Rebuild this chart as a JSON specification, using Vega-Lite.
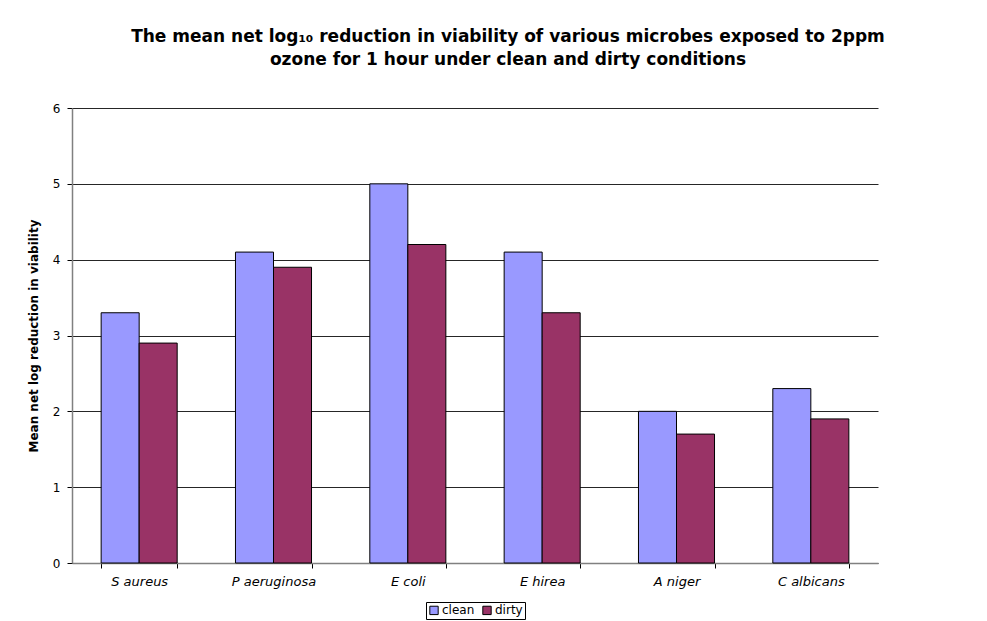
{
  "$schema": "https://vega.github.io/schema/vega-lite/v6.json",
  "autosize": "none",
  "width": 806,
  "height": 455,
  "padding": {"left": 72, "top": 108, "right": 109, "bottom": 58},
  "background": "white",
  "title": {
    "text": ["The mean net log₁₀ reduction in viability of various microbes exposed to 2ppm", "ozone for 1 hour under clean and dirty conditions"],
    "font": "DejaVu Sans",
    "fontSize": 17,
    "fontWeight": "bold",
    "color": "black",
    "lineHeight": 23,
    "anchor": "middle",
    "dx": 33,
    "offset": 33
  },
  "data": {
    "values": [
      {"microbe": "S aureus", "condition": "clean", "value": 3.3},
      {"microbe": "S aureus", "condition": "dirty", "value": 2.9},
      {"microbe": "P aeruginosa", "condition": "clean", "value": 4.1},
      {"microbe": "P aeruginosa", "condition": "dirty", "value": 3.9},
      {"microbe": "E coli", "condition": "clean", "value": 5.0},
      {"microbe": "E coli", "condition": "dirty", "value": 4.2},
      {"microbe": "E hirea", "condition": "clean", "value": 4.1},
      {"microbe": "E hirea", "condition": "dirty", "value": 3.3},
      {"microbe": "A niger", "condition": "clean", "value": 2.0},
      {"microbe": "A niger", "condition": "dirty", "value": 1.7},
      {"microbe": "C albicans", "condition": "clean", "value": 2.3},
      {"microbe": "C albicans", "condition": "dirty", "value": 1.9}
    ]
  },
  "mark": {"type": "bar", "stroke": "black", "strokeWidth": 1},
  "encoding": {
    "x": {
      "field": "microbe",
      "type": "nominal",
      "sort": null,
      "scale": {"paddingInner": 0.434, "paddingOuter": 0.217},
      "axis": {
        "title": null,
        "labelAngle": 0,
        "labelFont": "DejaVu Sans",
        "labelFontStyle": "italic",
        "labelFontSize": 13,
        "labelColor": "black",
        "labelPadding": 7,
        "tickBand": "extent",
        "tickSize": 5,
        "tickColor": "black",
        "domainColor": "#808080",
        "domainWidth": 1.5,
        "grid": false
      }
    },
    "xOffset": {"field": "condition", "type": "nominal", "scale": {"paddingInner": 0, "paddingOuter": 0}},
    "y": {
      "field": "value",
      "type": "quantitative",
      "scale": {"domain": [0, 6], "nice": false},
      "axis": {
        "title": "Mean net log reduction in viability",
        "titleFont": "DejaVu Sans",
        "titleFontSize": 12,
        "titleFontWeight": "bold",
        "titleColor": "black",
        "titlePadding": 12,
        "values": [0, 1, 2, 3, 4, 5, 6],
        "labelFont": "DejaVu Sans",
        "labelFontSize": 12,
        "labelColor": "black",
        "labelPadding": 7,
        "tickSize": 5,
        "tickColor": "black",
        "domainColor": "#808080",
        "domainWidth": 1.5,
        "grid": true,
        "gridColor": "black",
        "gridOpacity": 0.85,
        "gridWidth": 1
      }
    },
    "color": {
      "field": "condition",
      "type": "nominal",
      "scale": {"domain": ["clean", "dirty"], "range": ["#9999FF", "#993366"]},
      "legend": {
        "title": null,
        "orient": "none",
        "legendX": 354,
        "legendY": 494,
        "direction": "horizontal",
        "symbolType": "square",
        "symbolSize": 70,
        "symbolStrokeColor": "black",
        "symbolStrokeWidth": 1,
        "labelFont": "DejaVu Sans",
        "labelFontSize": 12,
        "labelColor": "black",
        "labelOffset": 2,
        "columnPadding": 5,
        "padding": 2,
        "strokeColor": "black"
      }
    }
  },
  "config": {"view": {"stroke": null}}
}
